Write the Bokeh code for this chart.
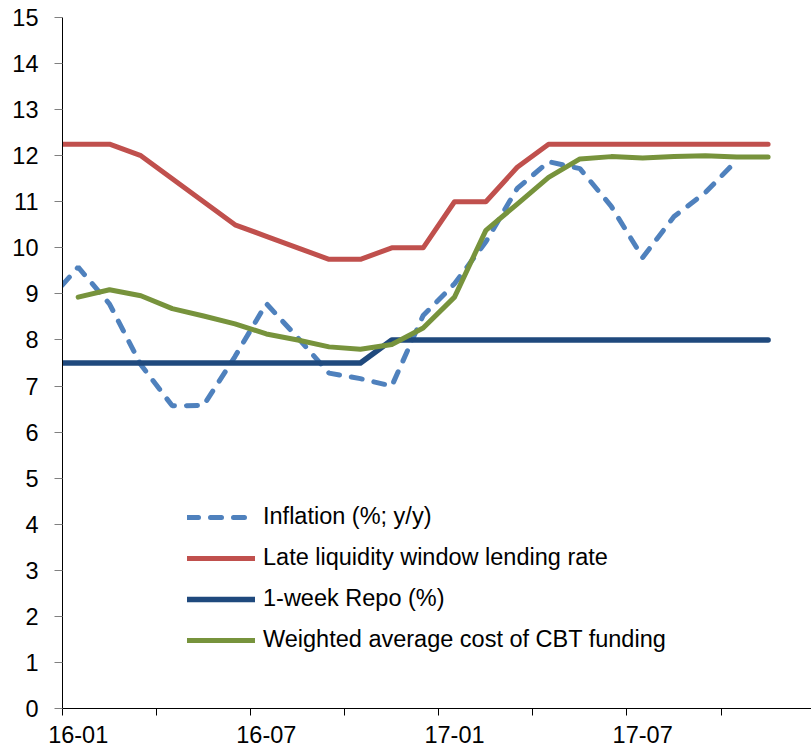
import math
from bokeh.plotting import figure
from bokeh.models import Range1d, FixedTicker
from bokeh.embed import file_html
from bokeh.resources import INLINE

NaN = float("nan")

# Monthly observations, Dec 2015 .. Nov 2017 (each month centred in its slot)
months = ["15-12",
          "16-01", "16-02", "16-03", "16-04", "16-05", "16-06",
          "16-07", "16-08", "16-09", "16-10", "16-11", "16-12",
          "17-01", "17-02", "17-03", "17-04", "17-05", "17-06",
          "17-07", "17-08", "17-09", "17-10", "17-11"]

inflation = [8.81,
             9.58, 8.78, 7.46, 6.57, 6.58, 7.64,
             8.79, 8.05, 7.28, 7.16, 7.00, 8.53,
             9.22, 10.13, 11.29, 11.87, 11.72, 10.90,
             9.79, 10.68, 11.20, 11.90, NaN]

llw_rate = [12.25,
            12.25, 12.25, 12.00, 11.50, 11.00, 10.50,
            10.25, 10.00, 9.75, 9.75, 10.00, 10.00,
            11.00, 11.00, 11.75, 12.25, 12.25, 12.25,
            12.25, 12.25, 12.25, 12.25, 12.25]

repo = [7.5,
        7.5, 7.5, 7.5, 7.5, 7.5, 7.5,
        7.5, 7.5, 7.5, 7.5, 8.0, 8.0,
        8.0, 8.0, 8.0, 8.0, 8.0, 8.0,
        8.0, 8.0, 8.0, 8.0, 8.0]

funding_cost = [NaN,
                8.93, 9.09, 8.96, 8.68, 8.52, 8.35,
                8.13, 8.00, 7.85, 7.80, 7.90, 8.26,
                8.93, 10.38, 10.95, 11.53, 11.93, 11.98,
                11.95, 11.98, 12.00, 11.97, 11.97]

series_names = ["Inflation (%; y/y)",
                "Late liquidity window lending rate",
                "1-week Repo (%)",
                "Weighted average cost of CBT funding"]

tick_label_months = ["16-01", "16-07", "17-01", "17-07"]
tick_mark_months = ["16-01", "16-04", "16-07", "16-10", "17-01", "17-04", "17-07", "17-10"]
y_ticks = list(range(0, 16))

# slot centres: month slot k spans [k-1, k], centre k-0.5
x = [i - 0.5 for i in range(len(months))]

FONT = "Liberation Sans"
FS = "23.5px"
W, H = 811, 755
LEFT, TOP, BOTTOM = 62, 17, 47
PX_PER_MONTH = 31.36

p = figure(width=W, height=H, output_backend="svg", toolbar_location=None,
           x_range=Range1d(0, (W - LEFT) / PX_PER_MONTH), y_range=Range1d(0, 15),
           min_border_left=LEFT, min_border_right=0, min_border_top=TOP,
           min_border_bottom=BOTTOM)
p.outline_line_color = None
p.xgrid.visible = False
p.ygrid.visible = False
p.background_fill_color = "white"
p.border_fill_color = "white"

colors = ["#4F81BD", "#C0504D", "#1F497D", "#77933C"]
datas = [inflation, llw_rate, repo, funding_cost]
widths = [5, 5, 5.5, 5]
for data, c, name, w in zip(datas, colors, series_names, widths):
    if c == "#4F81BD":
        kw = dict(line_dash="11 12", line_cap="round")
    else:
        kw = dict(line_cap="round", line_join="round")
    p.line(x, data, line_color=c, line_width=w, legend_label=name, **kw)

# x axis
xa = p.xaxis[0]
xa.ticker = FixedTicker(ticks=[months.index(m) - 0.5 for m in tick_label_months],
                        minor_ticks=[months.index(m) - 1 for m in tick_mark_months])
xa.major_label_overrides = {months.index(m) - 0.5: m for m in tick_label_months}
xa.major_tick_out = 0
xa.major_tick_in = 0
xa.minor_tick_out = 7
xa.minor_tick_in = 0
xa.minor_tick_line_color = "black"
xa.axis_line_color = "black"
xa.major_label_text_font = FONT
xa.major_label_text_font_size = FS
xa.major_label_text_color = "black"
xa.major_label_standoff = 10

# y axis
ya = p.yaxis[0]
ya.ticker = FixedTicker(ticks=y_ticks, minor_ticks=[])
ya.major_tick_out = 8
ya.major_tick_in = 0
ya.major_tick_line_color = "#808080"
ya.axis_line_color = "black"
ya.major_label_text_font = FONT
ya.major_label_text_font_size = FS
ya.major_label_text_color = "black"
ya.major_label_standoff = 16

lg = p.legend[0]
lg.location = (125, 55)
lg.background_fill_alpha = 0
lg.border_line_alpha = 0
lg.padding = 0
lg.margin = 0
lg.spacing = 14
lg.glyph_width = 68
lg.glyph_height = 20
lg.label_height = 20
lg.label_standoff = 8
lg.label_text_font = FONT
lg.label_text_font_size = FS
lg.label_text_color = "black"

open("out.html", "w").write(file_html(p, INLINE))
